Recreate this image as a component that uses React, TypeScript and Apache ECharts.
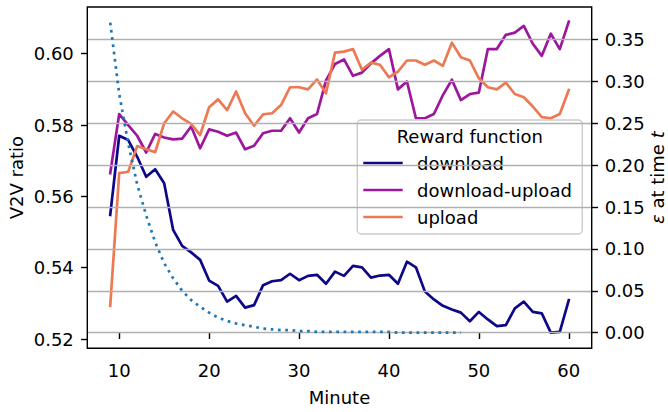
import React, { useEffect, useRef } from "react";
import * as echarts from "echarts";

const minutes = [9, 10, 11, 12, 13, 14, 15, 16, 17, 18, 19, 20, 21, 22, 23, 24, 25, 26, 27, 28, 29, 30, 31, 32, 33, 34, 35, 36, 37, 38, 39, 40, 41, 42, 43, 44, 45, 46, 47, 48, 49, 50, 51, 52, 53, 54, 55, 56, 57, 58, 59, 60];

const download = [0.5548, 0.5770, 0.5758, 0.5711, 0.5655, 0.5676, 0.5637, 0.5506, 0.5461, 0.5443, 0.5422, 0.5364, 0.5349, 0.5305, 0.5321, 0.5288, 0.5295, 0.5351, 0.5362, 0.5365, 0.5383, 0.5365, 0.5377, 0.5380, 0.5355, 0.5389, 0.5377, 0.5405, 0.5401, 0.5372, 0.5378, 0.5380, 0.5355, 0.5417, 0.5401, 0.5333, 0.5311, 0.5293, 0.5283, 0.5274, 0.5250, 0.5276, 0.5255, 0.5236, 0.5239, 0.5286, 0.5305, 0.5276, 0.5272, 0.5218, 0.5220, 0.5309];

const downloadUpload = [0.5665, 0.5831, 0.5800, 0.5770, 0.5723, 0.5775, 0.5765, 0.5760, 0.5762, 0.5796, 0.5735, 0.5788, 0.5781, 0.5770, 0.5779, 0.5732, 0.5742, 0.5777, 0.5784, 0.5784, 0.5819, 0.5779, 0.5819, 0.5831, 0.5925, 0.5971, 0.5984, 0.5938, 0.5947, 0.5973, 0.5994, 0.6013, 0.5900, 0.5922, 0.5819, 0.5819, 0.5831, 0.5884, 0.5927, 0.5870, 0.5887, 0.5891, 0.6013, 0.6013, 0.6053, 0.6059, 0.6078, 0.6028, 0.5994, 0.6056, 0.6013, 0.6090];

const upload = [0.5293, 0.5665, 0.5669, 0.5741, 0.5732, 0.5724, 0.5805, 0.5838, 0.5819, 0.5803, 0.5772, 0.5850, 0.5872, 0.5842, 0.5894, 0.5833, 0.5798, 0.5830, 0.5833, 0.5856, 0.5906, 0.5906, 0.5900, 0.5928, 0.5889, 0.6003, 0.6006, 0.6013, 0.5955, 0.5975, 0.5969, 0.5934, 0.5950, 0.5981, 0.5981, 0.5969, 0.5981, 0.5966, 0.6031, 0.5990, 0.5981, 0.5931, 0.5906, 0.5900, 0.5919, 0.5887, 0.5878, 0.5852, 0.5822, 0.5819, 0.5831, 0.5898];

const epsMinutes = [9, 10, 11, 12, 13, 14, 15, 16, 17, 18, 19, 20, 21, 22, 23, 24, 25, 26, 27, 28, 29, 30, 31, 32, 33, 34, 35, 36, 37, 38, 39, 40, 41, 42, 43, 44, 45, 46, 47, 48];

const epsilon = [0.370, 0.285, 0.226, 0.177, 0.140, 0.108, 0.083, 0.065, 0.050, 0.039, 0.031, 0.024, 0.018, 0.014, 0.011, 0.009, 0.007, 0.005, 0.004, 0.003, 0.003, 0.002, 0.002, 0.001, 0.001, 0.001, 0.001, 0.001, 0.001, 0.001, 0.001, 0.001, 0.000, 0.000, 0.000, 0.000, 0.000, 0.000, 0.000, 0.000];

const xTicks = [10, 20, 30, 40, 50, 60];
const leftTicks = [0.52, 0.54, 0.56, 0.58, 0.6];
const rightTicks = [0, 0.05, 0.1, 0.15, 0.2, 0.25, 0.3, 0.35];

const seriesNames = ["download", "download-upload", "upload"];
const seriesColors = ["#0d0887", "#9c179e", "#ed7953"];
const legendTitle = "Reward function";

const FONT = '"DejaVu Sans", "Noto Sans", sans-serif';

export default function App() {
  const ref = useRef<HTMLDivElement>(null);

  useEffect(() => {
    const chart = echarts.init(ref.current!, null, { renderer: "svg", width: 668, height: 412 });
    const values = [download, downloadUpload, upload];
    const gridLeft = 87.3;
    const gridTop = 7;
    const gridRight = 591.7;
    const gridBottom = 348.3;

    const lineSeries = values.map((vals, i) => ({
      type: "line",
      name: seriesNames[i],
      xAxisIndex: 0,
      yAxisIndex: 0,
      data: minutes.map((m, j) => [m, vals[j]]),
      showSymbol: false,
      symbol: "none",
      lineStyle: { color: seriesColors[i], width: 2.7, join: "round", cap: "square" },
      itemStyle: { color: seriesColors[i] },
      z: 2 + i * 0.1,
      silent: true,
    }));

    const legendX = 357.3;
    const legendY = 120;
    const legendW = 225;
    const legendH = 114;
    const entryY = [163, 190, 217];
    const legendGraphics: any[] = [
      {
        type: "rect",
        shape: { x: legendX, y: legendY, width: legendW, height: legendH, r: 4 },
        style: { fill: "rgba(255,255,255,0.8)", stroke: "#cccccc", lineWidth: 1.4 },
        z: 5,
      },
      {
        type: "text",
        x: legendX + legendW / 2,
        y: 136.5,
        style: { text: legendTitle, font: `18px ${FONT}`, fill: "#000", textAlign: "center", textVerticalAlign: "middle" },
        z: 5,
      },
    ];
    seriesNames.forEach((n, i) => {
      legendGraphics.push({
        type: "line",
        shape: { x1: 363.3, y1: entryY[i], x2: 402.7, y2: entryY[i] },
        style: { stroke: seriesColors[i], lineWidth: 2.7 },
        z: 5,
      });
      legendGraphics.push({
        type: "text",
        x: 417,
        y: entryY[i],
        style: { text: n, font: `18px ${FONT}`, fill: "#000", textAlign: "left", textVerticalAlign: "middle" },
        z: 5,
      });
    });

    const titleGraphics: any[] = [
      {
        type: "text",
        x: (gridLeft + gridRight) / 2,
        y: 397.5,
        style: { text: "Minute", font: `18px ${FONT}`, fill: "#000", textAlign: "center", textVerticalAlign: "middle" },
      },
      {
        type: "text",
        x: 16.5,
        y: (gridTop + gridBottom) / 2,
        rotation: Math.PI / 2,
        style: { text: "V2V ratio", font: `18px ${FONT}`, fill: "#000", textAlign: "center", textVerticalAlign: "middle" },
      },
      {
        type: "text",
        x: 657.5,
        y: (gridTop + gridBottom) / 2,
        rotation: Math.PI / 2,
        style: {
          text: "{i|ε} at time {i|t}",
          font: `18px ${FONT}`,
          fill: "#000",
          textAlign: "center",
          textVerticalAlign: "middle",
          rich: { i: { fontStyle: "italic", fontSize: 18, fontFamily: FONT, fill: "#000" } },
        },
      },
    ];

    const axisLabelBase = { fontSize: 18, fontFamily: FONT, color: "#000" };
    const tickBase = { show: true, inside: false, length: 6.3, lineStyle: { color: "#000", width: 1.4 } };

    const option: any = {
      animation: false,
      backgroundColor: "#ffffff",
      textStyle: { fontFamily: FONT },
      grid: {
        left: gridLeft,
        top: gridTop,
        width: gridRight - gridLeft,
        height: gridBottom - gridTop,
        show: true,
        borderColor: "#000",
        borderWidth: 1.4,
        backgroundColor: "transparent",
        containLabel: false,
        z: 12,
      },
      xAxis: {
        type: "value",
        min: 6.45,
        max: 62.55,
        axisLine: { show: false },
        axisTick: { ...tickBase, customValues: xTicks },
        axisLabel: { ...axisLabelBase, margin: 13, customValues: xTicks, formatter: (v: number) => String(v) },
        splitLine: { show: false },
      },
      yAxis: [
        {
          type: "value",
          position: "left",
          min: 0.5174,
          max: 0.6131,
          axisLine: { show: false },
          axisTick: { ...tickBase, customValues: leftTicks },
          axisLabel: { ...axisLabelBase, margin: 13.5, customValues: leftTicks, formatter: (v: number) => v.toFixed(2) },
          splitLine: { show: false },
        },
        {
          type: "value",
          position: "right",
          min: -0.0186,
          max: 0.3887,
          axisLine: { show: false },
          axisTick: { ...tickBase, customValues: rightTicks },
          axisLabel: { ...axisLabelBase, margin: 13, customValues: rightTicks, formatter: (v: number) => v.toFixed(2) },
          splitLine: { show: false },
        },
      ],
      series: [
        ...lineSeries,
        {
          type: "line",
          name: "grid",
          xAxisIndex: 0,
          yAxisIndex: 1,
          data: [],
          z: 8,
          silent: true,
          markLine: {
            silent: true,
            symbol: ["none", "none"],
            label: { show: false },
            lineStyle: { color: "#b0b0b0", width: 1.44, type: "solid" },
            emphasis: { disabled: true },
            data: rightTicks.map((t) => ({ yAxis: t })),
          },
        },
        {
          type: "line",
          name: "epsilon",
          xAxisIndex: 0,
          yAxisIndex: 1,
          data: epsMinutes.map((m, j) => [m, epsilon[j]]),
          showSymbol: false,
          symbol: "none",
          lineStyle: { color: "#1f77b4", width: 2.7, type: [2.7, 4.6], cap: "butt" },
          z: 9,
          silent: true,
        },
      ],
      graphic: [...legendGraphics, ...titleGraphics],
    };

    chart.setOption(option);
    return () => chart.dispose();
  }, []);

  return (
    <div
      ref={ref}
      style={{ position: "fixed", left: 0, top: 0, width: 668, height: 412, background: "#fff" }}
    />
  );
}
